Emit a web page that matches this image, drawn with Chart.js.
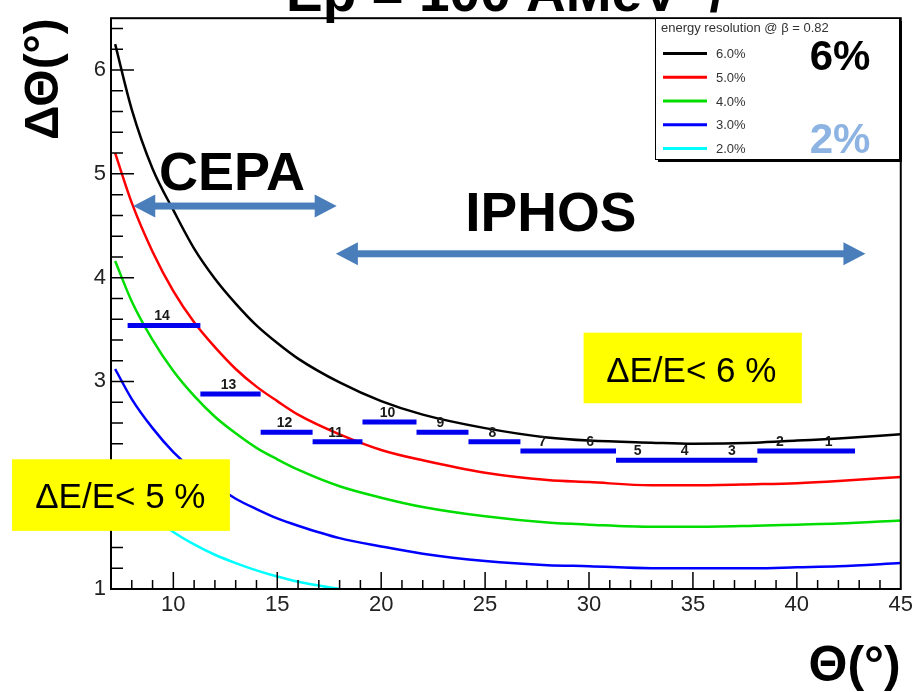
<!DOCTYPE html>
<html>
<head>
<meta charset="utf-8">
<script src="https://cdn.jsdelivr.net/npm/chart.js@4"></script>
<style>
  body { margin: 0; background: #fff; }
  canvas { display: block; }
</style>
</head>
<body>
<canvas id="resChart" width="916" height="692"></canvas>
<script>
// theta (deg) and angular acceptance (deg) for each energy resolution
const theta = [7.2, 8, 9, 10, 11, 12, 13, 14, 15, 16, 18, 20, 22, 25, 28, 30, 33, 35, 38, 40, 42, 45];
const res6 = [6.25, 5.62, 5.05, 4.65, 4.28, 3.99, 3.75, 3.54, 3.37, 3.22, 2.99, 2.81, 2.68, 2.55, 2.46, 2.43, 2.41, 2.40, 2.41, 2.43, 2.45, 2.49];
const res5 = [5.20, 4.72, 4.25, 3.87, 3.57, 3.33, 3.12, 2.95, 2.81, 2.68, 2.49, 2.34, 2.24, 2.12, 2.05, 2.03, 2.00, 2.00, 2.01, 2.02, 2.04, 2.08];
const res4 = [4.16, 3.77, 3.40, 3.10, 2.86, 2.66, 2.50, 2.36, 2.25, 2.15, 1.99, 1.88, 1.79, 1.70, 1.64, 1.62, 1.60, 1.60, 1.61, 1.62, 1.63, 1.66];
const res3 = [3.12, 2.83, 2.55, 2.32, 2.14, 2.00, 1.87, 1.77, 1.68, 1.61, 1.49, 1.41, 1.34, 1.27, 1.23, 1.22, 1.20, 1.20, 1.20, 1.21, 1.22, 1.25];
const res2 = [2.08, 1.89, 1.70, 1.55, 1.43, 1.33, 1.25, 1.18, 1.12, 1.07, 1.00, null, null, null, null, null, null, null, null, null, null, null];
const curveLabels = ['6.0%', '5.0%', '4.0%', '3.0%', '2.0%'];
const curveColors = ['#000000', '#ff0000', '#00dd00', '#0000ff', '#00ffff'];

// detector modules: angular span and acceptance
const segStart = [7.8, 11.3, 14.2, 16.7, 19.1, 21.7, 24.2, 26.7, 31.3, 38.1];
const segEnd = [11.3, 14.2, 16.7, 19.1, 21.7, 24.2, 26.7, 31.3, 38.1, 42.8];
const segY = [3.54, 2.88, 2.51, 2.42, 2.61, 2.51, 2.42, 2.33, 2.24, 2.33];
const segModules = [['14'], ['13'], ['12'], ['11'], ['10'], ['9'], ['8'], ['7', '6'], ['5', '4', '3'], ['2', '1']];

const xTicks = [10, 15, 20, 25, 30, 35, 40, 45];
const yTicks = [1, 2, 3, 4, 5, 6];

const tickFont = "'Liberation Sans Narrow', 'Liberation Sans', Arial, sans-serif";
const sans = "'Liberation Sans', Arial, sans-serif";
const arrowBlue = '#4a7ebb';

const curves = [res6, res5, res4, res3, res2];
const datasets = curves.map((vals, i) => ({
  label: curveLabels[i],
  data: theta.map((t, j) => ({ x: t, y: vals[j] })),
  borderColor: curveColors[i],
  borderWidth: 2.5,
  pointRadius: 0,
  cubicInterpolationMode: 'monotone',
  spanGaps: false,
  order: i + 1
}));

const segPoints = [];
segStart.forEach((s, i) => {
  segPoints.push({ x: s, y: segY[i] }, { x: segEnd[i], y: segY[i] }, { x: segEnd[i], y: null });
});
datasets.push({
  label: 'modules',
  data: segPoints,
  borderColor: '#0000ee',
  borderWidth: 5,
  borderCapStyle: 'butt',
  pointRadius: 0,
  tension: 0,
  spanGaps: false,
  order: 0
});

function drawArrow(ctx, x1, x2, yy) {
  const head = 22, halfH = 11.5, shaft = 7;
  ctx.fillStyle = arrowBlue;
  ctx.fillRect(x1 + head - 1, yy - shaft / 2, x2 - x1 - 2 * head + 2, shaft);
  ctx.beginPath();
  ctx.moveTo(x1, yy); ctx.lineTo(x1 + head, yy - halfH); ctx.lineTo(x1 + head, yy + halfH);
  ctx.closePath(); ctx.fill();
  ctx.beginPath();
  ctx.moveTo(x2, yy); ctx.lineTo(x2 - head, yy - halfH); ctx.lineTo(x2 - head, yy + halfH);
  ctx.closePath(); ctx.fill();
}

function yellowBox(ctx, xs, ys, x1, x2, y1, y2, text, tx, ty) {
  const l = xs.getPixelForValue(x1), r = xs.getPixelForValue(x2);
  const t = ys.getPixelForValue(y1), b = ys.getPixelForValue(y2);
  ctx.fillStyle = '#ffff00';
  ctx.fillRect(l, t, r - l, b - t);
  ctx.fillStyle = '#000';
  ctx.font = '35px ' + sans;
  ctx.textAlign = 'center';
  ctx.textBaseline = 'alphabetic';
  ctx.fillText(text, xs.getPixelForValue(tx), ys.getPixelForValue(ty));
}

const decor = {
  id: 'decor',
  afterDatasetsDraw(chart) {
    const { ctx, chartArea: a } = chart;
    const xs = chart.scales.x, ys = chart.scales.y;
    ctx.save();

    // frame
    ctx.strokeStyle = '#000';
    ctx.lineWidth = 2;
    ctx.strokeRect(a.left, a.top, a.right - a.left, a.bottom - a.top);

    // inner ticks
    ctx.lineWidth = 1.5;
    ctx.beginPath();
    for (let v = 8; v <= 44; v++) {
      const px = xs.getPixelForValue(v);
      const len = xTicks.includes(v) ? 17 : 9;
      ctx.moveTo(px, a.bottom); ctx.lineTo(px, a.bottom - len);
    }
    for (let k = 0; k <= 27; k++) {
      const v = 1 + k * 0.2;
      const py = ys.getPixelForValue(v);
      const len = k % 5 === 0 ? 23 : 12;
      ctx.moveTo(a.left, py); ctx.lineTo(a.left + len, py);
    }
    ctx.stroke();

    // module numbers
    ctx.fillStyle = '#1a1a1a';
    ctx.font = 'bold 14px ' + sans;
    ctx.textAlign = 'center';
    ctx.textBaseline = 'alphabetic';
    segModules.forEach((mods, i) => {
      const w = (segEnd[i] - segStart[i]) / mods.length;
      mods.forEach((m, k) => {
        const cx = xs.getPixelForValue(segStart[i] + w * (k + 0.5)) - 2;
        const cy = ys.getPixelForValue(segY[i]) - 5;
        ctx.fillText(m, cx, cy);
      });
    });

    // CEPA / IPHOS ranges
    drawArrow(ctx, xs.getPixelForValue(8.07), xs.getPixelForValue(17.86), ys.getPixelForValue(4.69));
    drawArrow(ctx, xs.getPixelForValue(17.82), xs.getPixelForValue(43.3), ys.getPixelForValue(4.23));
    ctx.fillStyle = '#000';
    ctx.font = 'bold 54px ' + sans;
    ctx.fillText('CEPA', xs.getPixelForValue(12.82), ys.getPixelForValue(4.84));
    ctx.font = 'bold 55px ' + sans;
    ctx.fillText('IPHOS', xs.getPixelForValue(28.16), ys.getPixelForValue(4.45));

    yellowBox(ctx, xs, ys, 29.74, 40.24, 3.47, 2.79, 'ΔE/E< 6 %', 34.92, 2.99);
    yellowBox(ctx, xs, ys, 2.24, 12.72, 2.25, 1.56, 'ΔE/E< 5 %', 7.45, 1.78);

    // legend box
    const lx = 655, ly = 18, lw = 244, lh = 141;
    ctx.fillStyle = '#000';
    ctx.fillRect(lx + 3, ly + lh, lw, 3);
    ctx.fillRect(lx + lw, ly + 3, 3, lh);
    ctx.fillStyle = '#fff';
    ctx.fillRect(lx, ly, lw, lh);
    ctx.strokeStyle = '#000';
    ctx.lineWidth = 1;
    ctx.strokeRect(lx + 0.5, ly + 0.5, lw, lh);
    ctx.fillStyle = '#333';
    ctx.textAlign = 'left';
    ctx.textBaseline = 'middle';
    ctx.font = '13px ' + tickFont;
    ctx.fillText('energy resolution @ β = 0.82', lx + 6, ly + 10);
    ctx.font = '13px ' + sans;
    curveLabels.forEach((lab, i) => {
      const yy = 53.5 + i * 23.75;
      ctx.strokeStyle = curveColors[i];
      ctx.lineWidth = 3;
      ctx.beginPath(); ctx.moveTo(663, yy); ctx.lineTo(707, yy); ctx.stroke();
      ctx.fillStyle = '#333';
      ctx.fillText(lab, 716, yy + 1);
    });
    ctx.textAlign = 'center';
    ctx.textBaseline = 'alphabetic';
    ctx.font = 'bold 42px ' + sans;
    ctx.fillStyle = '#000';
    ctx.fillText('6%', 840, 70);
    ctx.fillStyle = '#8db3e2';
    ctx.fillText('2%', 840, 153);

    // title, cut off by the top edge
    ctx.fillStyle = '#000';
    ctx.textAlign = 'left';
    ctx.font = 'bold 55px ' + sans;
    ctx.fillText('Ep = 100 AMeV  /', 286, 11);

    ctx.restore();
  }
};

new Chart(document.getElementById('resChart'), {
  type: 'line',
  data: { datasets: datasets },
  options: {
    responsive: false,
    animation: false,
    devicePixelRatio: 1,
    events: [],
    layout: { padding: { left: 0, right: 15, top: 17, bottom: 0 } },
    plugins: { legend: { display: false }, tooltip: { enabled: false } },
    scales: {
      x: {
        type: 'linear',
        min: 7,
        max: 45,
        afterFit(scale) { scale.height = 103; },
        afterBuildTicks(scale) { scale.ticks = xTicks.map(v => ({ value: v })); },
        grid: { display: false, drawTicks: false },
        border: { display: false },
        ticks: {
          autoSkip: false, maxRotation: 0, padding: 3, color: '#222',
          font: { family: tickFont, size: 22 }
        },
        title: {
          display: true, text: 'Θ(°)', align: 'end', color: '#000',
          font: { family: sans, size: 50, weight: 'bold', lineHeight: 1 },
          padding: { top: 0, bottom: 0 }
        }
      },
      y: {
        min: 1,
        max: 6.5,
        afterFit(scale) { scale.width = 111; },
        afterBuildTicks(scale) { scale.ticks = yTicks.map(v => ({ value: v })); },
        grid: { display: false, drawTicks: false },
        border: { display: false },
        ticks: {
          padding: 5, color: '#222',
          font: { family: tickFont, size: 22 }
        },
        title: {
          display: true, text: 'ΔΘ(°)', align: 'end', color: '#000',
          font: { family: sans, size: 48, weight: 'bold', lineHeight: 1 },
          padding: { top: 21, bottom: 0 }
        }
      }
    }
  },
  plugins: [decor]
});
</script>
</body>
</html>
